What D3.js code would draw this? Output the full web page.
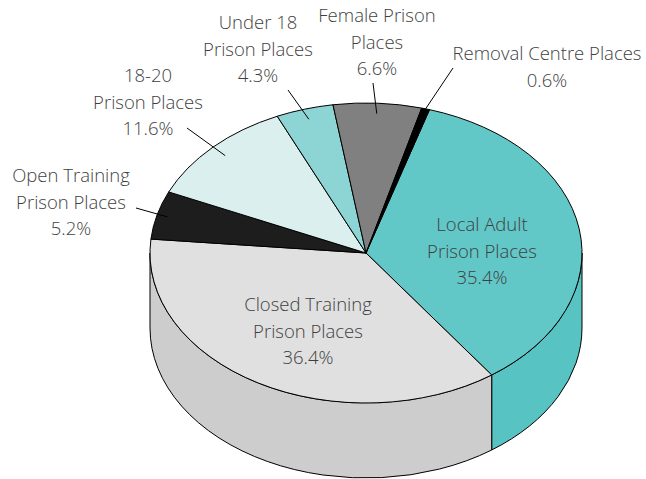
<head>
    <meta name="viewport" content="width=device-width, initial-scale=1">
    <style> body { margin: 0; background: #ffffff; } </style>
    <script src="https://cdnjs.cloudflare.com/ajax/libs/d3/7.8.5/d3.min.js"></script>
</head>
<body>
    <div id="chart"></div>
    <script>

        // data
        var categories = ["Local Adult Prison Places", "Closed Training Prison Places", "Open Training Prison Places",
                          "18-20 Prison Places", "Under 18 Prison Places", "Female Prison Places", "Removal Centre Places"];
        var values = [35.4, 36.4, 5.2, 11.6, 4.3, 6.6, 0.6];
        var labelLines = [
            ["Local Adult", "Prison Places", "35.4%"],
            ["Closed Training", "Prison Places", "36.4%"],
            ["Open Training", "Prison Places", "5.2%"],
            ["18-20", "Prison Places", "11.6%"],
            ["Under 18", "Prison Places", "4.3%"],
            ["Female Prison", "Places", "6.6%"],
            ["Removal Centre Places", "0.6%"]
        ];

        // styling / layout
        var topColors  = ["#62c7c7", "#e0e0e0", "#1d1d1d", "#dcefef", "#8dd4d4", "#808080", "#000000"];
        var sideColors = ["#58c3c3", "#cdcdcd", "#1d1d1d", "#dcefef", "#8dd4d4", "#808080", "#000000"];
        // label anchor (x, first baseline), leader outer end, leader inner radius fraction
        var labelPos = [
            {x: 482, y: 231, leader: null},
            {x: 308, y: 311, leader: null},
            {x: 71,  y: 182, leader: [136, 208], k: 0.95},
            {x: 148, y: 82,  leader: [187, 128], k: 0.92},
            {x: 258, y: 29,  leader: [288, 90],  k: 0.93},
            {x: 377, y: 22,  leader: [373, 83],  k: 0.93},
            {x: 547, y: 60,  leader: [453, 68],  k: 1.0}
        ];

        var W = 646, H = 479;
        var cx = 366, cy = 253, rx = 216, ry = 150, depth = 75;
        var start = 17.1 * Math.PI / 180;

        var svg = d3.select("#chart").append("svg")
            .attr("width", W)
            .attr("height", H);

        var pie = d3.pie().sort(null).startAngle(start).endAngle(start + 2 * Math.PI);
        var arcs = pie(values);

        function px(a, k) { return cx + (k || 1) * rx * Math.sin(a); }
        function py(a, k) { return cy - (k || 1) * ry * Math.cos(a); }

        // side walls: visible part is pie angle in [PI/2, 3PI/2]
        var sides = svg.append("g");
        arcs.forEach(function(d, i) {
            var a1 = Math.max(d.startAngle, Math.PI / 2),
                a2 = Math.min(d.endAngle, 3 * Math.PI / 2);
            if (a2 <= a1) return;
            var large = (a2 - a1) > Math.PI ? 1 : 0;
            var p = "M" + px(a1) + "," + py(a1)
                + " A" + rx + "," + ry + " 0 " + large + " 1 " + px(a2) + "," + py(a2)
                + " L" + px(a2) + "," + (py(a2) + depth)
                + " A" + rx + "," + ry + " 0 " + large + " 0 " + px(a1) + "," + (py(a1) + depth)
                + " Z";
            sides.append("path")
                .attr("d", p)
                .attr("fill", sideColors[i])
                .attr("stroke", "#000")
                .attr("stroke-width", 1)
                .attr("stroke-linejoin", "round");
        });

        // top face
        var face = svg.append("g");
        arcs.forEach(function(d, i) {
            var large = (d.endAngle - d.startAngle) > Math.PI ? 1 : 0;
            var p = "M" + cx + "," + cy
                + " L" + px(d.startAngle) + "," + py(d.startAngle)
                + " A" + rx + "," + ry + " 0 " + large + " 1 " + px(d.endAngle) + "," + py(d.endAngle)
                + " Z";
            face.append("path")
                .attr("d", p)
                .attr("fill", topColors[i])
                .attr("stroke", "#000")
                .attr("stroke-width", 1)
                .attr("stroke-linejoin", "round");
        });

        // leader lines
        var leaders = svg.append("g");
        arcs.forEach(function(d, i) {
            var lp = labelPos[i];
            if (!lp.leader) return;
            var mid = (d.startAngle + d.endAngle) / 2;
            leaders.append("line")
                .attr("x1", lp.leader[0]).attr("y1", lp.leader[1])
                .attr("x2", px(mid, lp.k)).attr("y2", py(mid, lp.k))
                .attr("stroke", "#000")
                .attr("stroke-width", 1);
        });

        // labels
        var labels = svg.append("g")
            .attr("font-family", "'Open Sans', sans-serif")
            .attr("font-size", "18.5px")
            .attr("font-weight", 300)
            .attr("fill", "#3f3f3f")
            .attr("text-anchor", "middle");

        labelLines.forEach(function(lines, i) {
            var t = labels.append("text")
                .attr("x", labelPos[i].x)
                .attr("y", labelPos[i].y);
            lines.forEach(function(s, j) {
                t.append("tspan")
                    .attr("x", labelPos[i].x)
                    .attr("dy", j == 0 ? 0 : 26.5)
                    .text(s);
            });
        });

    </script>
</body>
